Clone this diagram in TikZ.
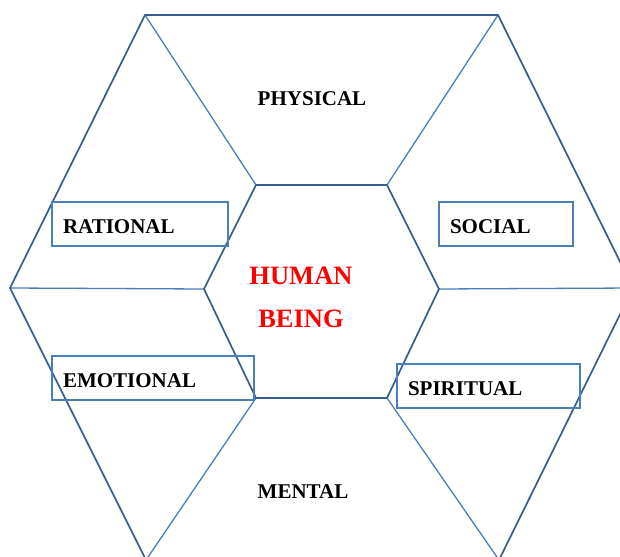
\documentclass[tikz,border=0pt]{standalone}
\usepackage{fontspec}
\setmainfont{Liberation Serif}
\usetikzlibrary{calc}

\definecolor{hexdark}{RGB}{56,93,138}
\definecolor{hexlight}{RGB}{74,126,187}

\begin{document}
\begin{tikzpicture}[x=1pt, y=-1pt,
    % Define the styles for the lines and boxes
    hexline/.style={draw=hexdark, line width=1.7pt, line join=round},
    spoke/.style={draw=hexlight, line width=1.3pt},
    labelbox/.style={draw=hexlight, line width=1.3pt, inner xsep=11pt, inner ysep=0pt,
        minimum height=44pt, text height=18pt, text depth=0pt, align=left,
        font=\fontsize{21}{24}\selectfont\bfseries},
    facet/.style={font=\fontsize{21}{24}\selectfont\bfseries},
    core/.style={text=red, align=center, font=\fontsize{26.5}{43}\selectfont\bfseries}
]

% Fix the size of the picture
\useasboundingbox (0,0) rectangle (620,556);
\clip (0,0) rectangle (620,556);

% Define the points of the outer hexagon
\coordinate (OTL) at (145,15);
\coordinate (OTR) at (498,15);
\coordinate (OR)  at (633,288);
\coordinate (OBR) at (499,560);
\coordinate (OBL) at (146,560);
\coordinate (OL)  at (10,288);

% Define the points of the inner hexagon
\coordinate (ITL) at (256,185);
\coordinate (ITR) at (387,185);
\coordinate (IR)  at (439,289);
\coordinate (IBR) at (387,398);
\coordinate (IBL) at (256,398);
\coordinate (IL)  at (204,289);

% Draw the spokes between the hexagons
\draw[spoke] (OTL) -- (ITL);
\draw[spoke] (OTR) -- (ITR);
\draw[spoke] (OL) -- (IL);
\draw[spoke] (IR) -- (OR);
\draw[spoke] (IBL) -- (OBL);
\draw[spoke] (IBR) -- (OBR);

% Draw the two hexagons
\draw[hexline] (OTL) -- (OTR) -- (OR) -- (OBR) -- (OBL) -- (OL) -- cycle;
\draw[hexline] (ITL) -- (ITR) -- (IR) -- (IBR) -- (IBL) -- (IL) -- cycle;

% Add the labels in the boxes
\node[labelbox, text width=154pt] (rational)  at (140,224) {RATIONAL};
\node[labelbox, text width=112pt] (social)    at (506,224) {SOCIAL};
\node[labelbox, text width=180pt] (emotional) at (153,378) {EMOTIONAL};
\node[labelbox, text width=161pt] (spiritual) at (488.5,386) {SPIRITUAL};

% Add the free labels
\node[facet] (physical) at (312,99) {PHYSICAL};
\node[facet] (mental)   at (303,492) {MENTAL};
\node[core]  (human)    at (301,297) {HUMAN\\BEING};

\end{tikzpicture}
\end{document}
